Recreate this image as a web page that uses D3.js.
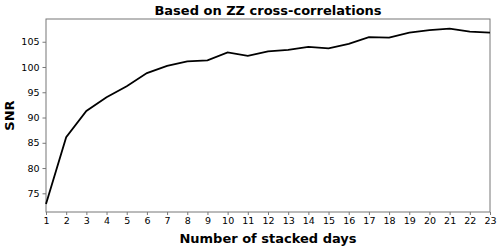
<!DOCTYPE html>
<html>
<head>
<meta charset="utf-8">
<script src="https://cdn.jsdelivr.net/npm/d3@7"></script>
<style>
  body { margin: 0; background: #fff; }
  svg text { font-family: "DejaVu Sans", sans-serif; }
</style>
</head>
<body>
<svg id="chart" width="500" height="249"></svg>
<script>
const days = d3.range(1, 24);
const snr = [72.9, 86.1, 91.3, 94.0, 96.2, 98.8, 100.2, 101.1, 101.3, 102.9, 102.2, 103.1,
             103.4, 104.0, 103.7, 104.6, 105.9, 105.8, 106.8, 107.3, 107.6, 107.0, 106.8];
const yTicks = [75, 80, 85, 90, 95, 100, 105];

const svg = d3.select("#chart");
const margin = { left: 46, right: 10, top: 19, bottom: 37 };
const width = 500, height = 249;

const x = d3.scaleLinear().domain([1, 23]).range([margin.left, width - margin.right]);
const y = d3.scaleLinear().domain([71.3, 109.5]).range([height - margin.bottom, margin.top]);

const xAxis = svg.append("g")
    .attr("transform", `translate(0,${height - margin.bottom})`)
    .call(d3.axisBottom(x).tickValues(days).tickFormat(d3.format("d")).tickSize(3).tickPadding(2));

const yAxis = svg.append("g")
    .attr("transform", `translate(${margin.left},0)`)
    .call(d3.axisLeft(y).tickValues(yTicks).tickSize(3.5).tickPadding(3));

[xAxis, yAxis].forEach(g => {
    g.select(".domain").remove();
    g.selectAll(".tick line").attr("stroke", "#555").attr("stroke-width", 0.8);
    g.selectAll(".tick text").attr("font-size", 9.5).attr("fill", "#000")
        .style("font-family", "DejaVu Sans, sans-serif");
});

svg.append("rect")
    .attr("x", margin.left).attr("y", margin.top)
    .attr("width", width - margin.right - margin.left)
    .attr("height", height - margin.bottom - margin.top)
    .attr("fill", "none").attr("stroke", "#777").attr("stroke-width", 1);

const line = d3.line().x((d, i) => x(days[i])).y(d => y(d));
svg.append("path")
    .datum(snr)
    .attr("d", line)
    .attr("fill", "none")
    .attr("stroke", "#000")
    .attr("stroke-width", 1.8);

svg.append("text")
    .attr("x", (margin.left + width - margin.right) / 2).attr("y", 15)
    .attr("text-anchor", "middle")
    .attr("font-size", 13).attr("font-weight", "bold")
    .text("Based on ZZ cross-correlations");

svg.append("text")
    .attr("x", (margin.left + width - margin.right) / 2).attr("y", 243)
    .attr("text-anchor", "middle")
    .attr("font-size", 13).attr("font-weight", "bold")
    .text("Number of stacked days");

svg.append("text")
    .attr("transform", `translate(14,${(margin.top + height - margin.bottom) / 2}) rotate(-90)`)
    .attr("text-anchor", "middle")
    .attr("font-size", 13).attr("font-weight", "bold")
    .text("SNR");
</script>
</body>
</html>
